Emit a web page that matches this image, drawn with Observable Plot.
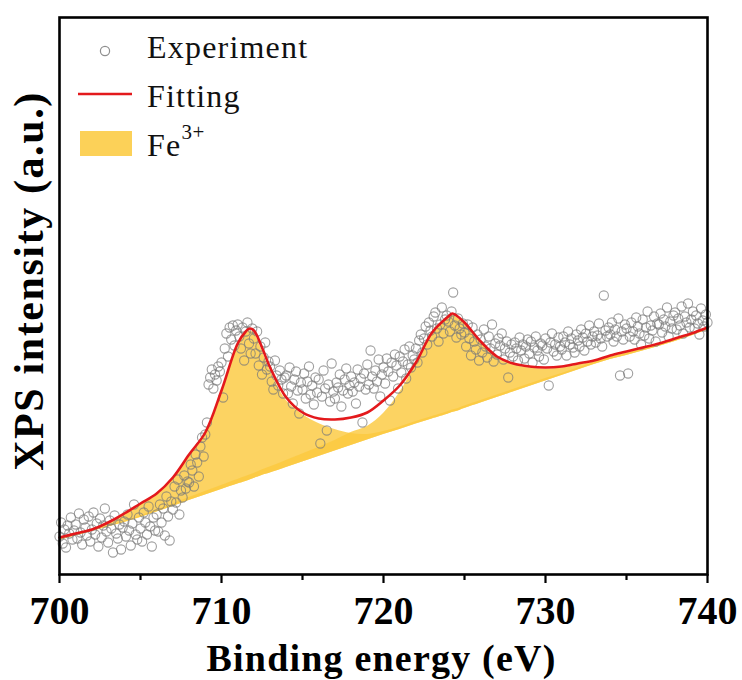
<!DOCTYPE html>
<html>
<head>
<meta charset="utf-8">
<script src="https://cdn.jsdelivr.net/npm/d3@7"></script>
<script src="https://cdn.jsdelivr.net/npm/@observablehq/plot@0.6"></script>
<style>
  html, body { margin: 0; padding: 0; background: #fff; }
  #wrap { position: relative; width: 742px; height: 680px; }
</style>
</head>
<body>
<div id="wrap"></div>
<script>
// ---- data (binding energy in eV, intensity in arbitrary units) ----
const xTicks = [700, 710, 720, 730, 740];
const xMinorTicks = [705, 715, 725, 735];
const xLabel = "Binding energy (eV)";
const yLabel = "XPS intensity (a.u.)";
const legendLabels = ["Experiment", "Fitting", "Fe"];
const legendSup = "3+";

// fitted curves sampled on an energy grid
const fitE  = [700,701,702,703,704,705,706,707,708,709,710,711,711.5,711.75,712,712.5,713,714,715,716,717,718,719,720,721,722,723,724,724.25,724.5,725,726,727,728,729,730,731,732,733,734,735,736,737,738,739,740];
const fitI  = [37,41,45,52,61,71,81,97,120,142,184,231,243,246,244,227,207,177,162,156,155,157,162,174,189,212,242,258,261,259,252,233,218,211,208,207,208,211,214,219,223,227,231,236,241,247];
const baseI = [34,38.5,43,47.5,52,57,62.5,68,74,79.5,85,90.5,93,94.5,96,99,101.5,107,112.5,118,123.5,129,134.5,140,145,150.5,155.5,160.5,162,163,166,171.5,177,182.5,188,193.5,199,204.5,210,215,219,223.5,228,233,238.5,244.5];
const fe1I  = [36,40,44,50.5,59.5,69.5,79,95,117.5,139.5,181,228,240.5,243.5,241.5,224,204,174,160,151,145,141,140,143,147.5,153,158,163,164.5,165.5,168.5,174,179.5,185,190.5,196,201,206.5,212,217,221,225,229.5,234.5,239.5,245.5];
const fe2I  = [34.5,39,43.5,48.5,53,58.5,64.5,70.5,77,83,89,95,98,99.5,101,104.5,107.5,114,120.5,127,134,142,148,161,182,210,240,256.5,259.5,257.5,250.5,231.5,216.5,209.5,206.5,205.5,206.5,209.5,212.5,217.5,221.5,225.5,229.5,234.5,239.5,245.5];

// experimental points: 700.0 ... 740.0 eV, step 0.1 eV
const expStartE = 700, expStepE = 0.1;
const expI = [
  38,52,31,45,27,49,41,57,35,44,
  50,36,61,42,30,55,47,39,58,33,
  45,62,40,51,28,56,37,49,66,43,
  32,54,46,22,59,41,36,50,25,47,
  53,38,60,44,29,51,70,40,35,57,
  46,33,62,52,40,68,48,28,57,44,
  60,43,70,52,66,39,78,58,34,73,
  65,88,72,95,60,84,77,99,86,93,
  92,110,104,88,120,112,98,128,137,118,
  140,152,190,197,205,186,200,194,208,203,
  212,177,226,241,218,247,235,249,229,244,
  250,238,226,247,214,243,252,231,221,246,
  236,221,243,209,228,200,217,232,205,213,
  208,193,185,214,199,189,204,195,181,197,
  199,181,207,188,171,195,203,184,161,192,
  185,201,176,193,208,180,189,170,197,182,
  195,131,178,204,186,144,190,173,211,183,
  176,192,187,200,168,184,195,206,181,189,
  198,183,192,171,205,188,196,152,201,185,
  210,190,224,198,186,204,193,215,178,200,
  207,191,216,203,174,212,198,220,209,186,
  218,202,213,225,196,210,228,207,219,215,
  226,212,234,240,222,236,248,230,252,244,
  238,258,262,246,233,250,267,241,255,259,
  253,243,263,282,249,237,256,246,240,251,
  242,228,250,236,219,247,233,225,240,214,
  235,222,245,228,217,238,226,250,213,231,
  220,236,229,241,215,226,233,197,222,230,
  218,232,226,214,237,224,230,216,228,235,
  221,233,212,227,238,224,218,231,229,215,
  236,226,189,232,241,223,230,219,237,228,
  225,238,232,219,243,230,236,227,222,240,
  234,228,245,237,224,241,233,249,230,238,
  243,232,239,251,236,228,279,244,238,247,
  240,252,233,245,238,256,199,243,235,250,
  246,201,238,252,243,235,257,248,241,230,
  255,239,247,263,236,249,244,258,233,251,
  250,261,242,255,248,267,238,253,246,259,
  262,245,256,249,268,241,258,252,271,247,
  255,263,246,259,251,240,266,254,248,260,
  252
];

// ---- styles ----
const SERIF = "'Liberation Serif', 'Times New Roman', Times, serif";
const RED = "#E3191C";
const YELLOW = "#FBC93F";
const DOT = "#7a7a7a";

const curves = fitE.map((e, i) => ({e, fit: fitI[i], base: baseI[i], t1: fe1I[i], t2: fe2I[i]}));
const points = expI.map((v, i) => ({e: +(expStartE + i * expStepE).toFixed(1), i: v}));

const chart = Plot.plot({
  width: 742,
  height: 680,
  marginLeft: 59,
  marginRight: 35,
  marginTop: 17,
  marginBottom: 106,
  style: {fontFamily: SERIF, background: "#fff", color: "#000", overflow: "visible"},
  x: {domain: [700, 740], axis: null},
  y: {domain: [0, 557], axis: null},
  marks: [
    Plot.areaY(curves, {x: "e", y1: "base", y2: "t1", fill: YELLOW, fillOpacity: 0.82, curve: "catmull-rom"}),
    Plot.areaY(curves, {x: "e", y1: "base", y2: "t2", fill: YELLOW, fillOpacity: 0.82, curve: "catmull-rom"}),
    Plot.dot(points, {x: "e", y: "i", r: 4.6, fill: "none", stroke: DOT, strokeOpacity: 0.72, strokeWidth: 1.1}),
    Plot.line(curves, {x: "e", y: "fit", stroke: RED, strokeWidth: 2.6, curve: "catmull-rom"}),
    Plot.frame({stroke: "#000", strokeWidth: 2.6}),
    Plot.axisX(xTicks, {label: null, tickSize: 9, tickPadding: 12, strokeWidth: 2.2, fontSize: 40, fontWeight: "bold", fontFamily: SERIF, fill: "#000", tickFormat: d => String(d)}),
    Plot.axisX(xMinorTicks, {label: null, tickSize: 6, strokeWidth: 2.2, tickFormat: () => ""}),
    Plot.text([xLabel], {frameAnchor: "bottom", dx: -2, dy: 84, lineAnchor: "middle", textAnchor: "middle", fontSize: 38, fontWeight: "bold", fontFamily: SERIF, fill: "#000"}),
    Plot.text([yLabel], {frameAnchor: "left", rotate: -90, dx: -30, dy: -15, lineAnchor: "middle", textAnchor: "middle", fontSize: 42, fontWeight: "bold", fontFamily: SERIF, fill: "#000"})
  ]
});
const wrap = document.getElementById("wrap");
wrap.appendChild(chart);

// widen the axis titles slightly (letter spacing) to match the reference
d3.select(chart).selectAll("text").each(function () {
  const t = this.textContent;
  if (t === xLabel) this.style.letterSpacing = "1.2px";
  if (t === yLabel) this.style.letterSpacing = "1.6px";
});

// ---- legend (inside the frame, top-left) ----
const leg = d3.select(wrap).append("svg")
  .attr("width", 742).attr("height", 680)
  .style("position", "absolute").style("left", "0px").style("top", "0px")
  .style("pointer-events", "none")
  .attr("font-family", SERIF);
leg.append("circle").attr("cx", 105).attr("cy", 51).attr("r", 4.6)
  .attr("fill", "none").attr("stroke", DOT).attr("stroke-opacity", 0.85).attr("stroke-width", 1.2);
leg.append("line").attr("x1", 78).attr("x2", 132).attr("y1", 94).attr("y2", 94)
  .attr("stroke", RED).attr("stroke-width", 2.6);
leg.append("rect").attr("x", 80).attr("y", 131).attr("width", 52).attr("height", 25)
  .attr("fill", "#FCD158");
const ys = [58, 107, 156];
legendLabels.forEach((t, k) => {
  const tx = leg.append("text").attr("x", 147).attr("y", ys[k])
    .attr("font-size", 32).attr("letter-spacing", "1.2px").attr("fill", "#111").text(t);
  if (k === 2) tx.append("tspan").attr("font-size", 21).attr("dy", -17).attr("dx", 0).attr("letter-spacing", "0.5px").text(legendSup);
});
</script>
</body>
</html>
